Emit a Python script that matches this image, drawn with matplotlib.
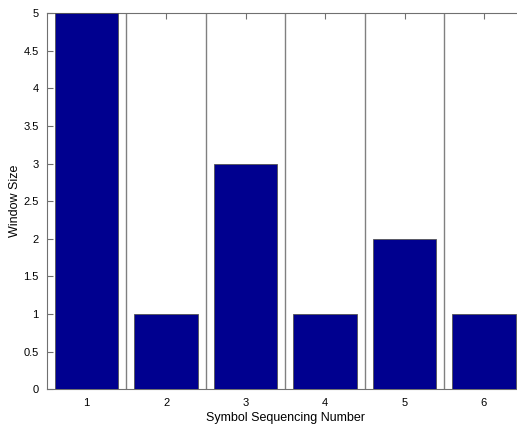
import matplotlib
matplotlib.use('Agg')
import matplotlib.pyplot as plt
import numpy as np

# data
seq_numbers = [1, 2, 3, 4, 5, 6]
window_sizes = [5, 1, 3, 1, 2, 1]
y_ticks = [0, 0.5, 1, 1.5, 2, 2.5, 3, 3.5, 4, 4.5, 5]
y_tick_labels = ['0', '0.5', '1', '1.5', '2', '2.5', '3', '3.5', '4', '4.5', '5']

plt.rcParams['font.family'] = ['Liberation Sans', 'DejaVu Sans']

fig = plt.figure(figsize=(5.17, 4.28), dpi=100)
ax = fig.add_axes([0.0909, 0.0904, 0.922, 0.8786])

ax.bar(seq_numbers, window_sizes, width=0.8, color='#00008f',
       edgecolor='#555555', linewidth=0.6, zorder=3)

# separator lines between the bars
ax.set_xticks(np.arange(1.5, len(seq_numbers)), minor=True)
ax.grid(True, which='minor', axis='x', color='#808080', linewidth=1.0, zorder=1)
ax.tick_params(which='minor', length=0)

ax.set_xlim(0.5, len(seq_numbers) + 0.5)
ax.set_ylim(0, 5)
ax.set_xticks(seq_numbers)
ax.set_yticks(y_ticks)
ax.set_yticklabels(y_tick_labels)

ax.tick_params(which='major', direction='in', length=4, width=0.8, color='#707070',
               labelsize=8, top=True, right=False, pad=6)
for s in ax.spines.values():
    s.set_color('#707070')
    s.set_linewidth(0.8)

ax.set_xlabel('Symbol Sequencing Number', fontsize=9, labelpad=3)
ax.set_ylabel('Window Size', fontsize=9)
ax.yaxis.set_label_coords(-0.055, 0.5)

fig.savefig('out.png', dpi=100)
